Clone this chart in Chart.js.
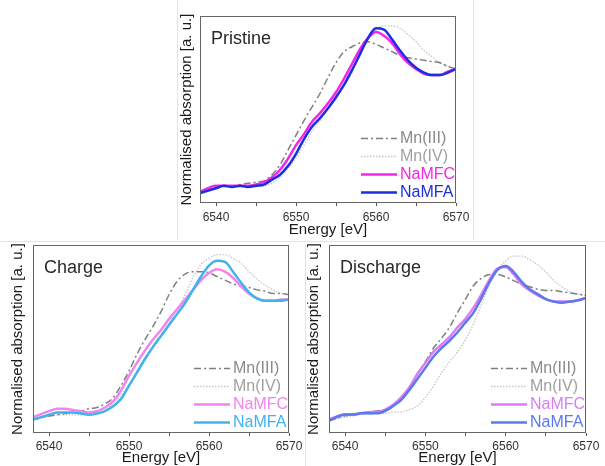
<!DOCTYPE html>
<html>
<head>
<meta charset="utf-8">
<script src="https://cdn.jsdelivr.net/npm/chart.js@4.4.1/dist/chart.umd.min.js"></script>
<style>
  html, body { margin: 0; padding: 0; background: #fff; }
  body { width: 605px; height: 466px; position: relative; overflow: hidden; }
  canvas { position: absolute; }
  .rule { position: absolute; background: #e3e3e3; }
</style>
</head>
<body>
<div class="rule" style="left:177px;top:0;width:1px;height:240px"></div>
<div class="rule" style="left:473px;top:0;width:1px;height:240px"></div>
<div class="rule" style="left:0;top:241px;width:605px;height:1px"></div>
<div class="rule" style="left:305px;top:244px;width:1px;height:222px"></div>
<canvas id="pristine" width="300" height="240" style="left:175px;top:0"></canvas>
<canvas id="charge" width="305" height="225" style="left:0;top:241px"></canvas>
<canvas id="discharge" width="307" height="225" style="left:298px;top:241px"></canvas>
<script>
// energy grid (eV) shared by all curves
const energy = [6538, 6540, 6541, 6542, 6543, 6544, 6545, 6546, 6547, 6548, 6549,
  6550, 6551, 6552, 6553, 6554, 6555, 6556, 6557, 6558, 6559,
  6560, 6561, 6562, 6563, 6564, 6565, 6566, 6567, 6568, 6569, 6570];
const energyTicks = [6540, 6545, 6550, 6555, 6560, 6565, 6570];
const seriesNames = ['Mn(III)', 'Mn(IV)', 'NaMFC', 'NaMFA'];
const panelTitles = ['Pristine', 'Charge', 'Discharge'];

// normalised absorption
const pristineMn3 = [-0.01, 0.04, 0.05, 0.05, 0.06, 0.07, 0.08, 0.09, 0.14, 0.22, 0.34, 0.46, 0.58, 0.69, 0.80, 0.93, 1.05, 1.14, 1.18, 1.21, 1.22, 1.20, 1.17, 1.14, 1.11, 1.09, 1.08, 1.07, 1.06, 1.05, 1.02, 1.00];
const pristineMn4 = [-0.01, 0.03, 0.04, 0.04, 0.04, 0.04, 0.05, 0.05, 0.07, 0.12, 0.19, 0.28, 0.38, 0.49, 0.58, 0.67, 0.76, 0.86, 0.97, 1.11, 1.24, 1.32, 1.35, 1.35, 1.33, 1.28, 1.22, 1.15, 1.10, 1.05, 1.02, 1.00];
const pristineNaMFC = [0.00, 0.05, 0.05, 0.05, 0.05, 0.05, 0.06, 0.08, 0.12, 0.18, 0.27, 0.38, 0.47, 0.57, 0.64, 0.72, 0.81, 0.92, 1.04, 1.16, 1.25, 1.30, 1.27, 1.21, 1.12, 1.05, 1.00, 0.96, 0.95, 0.95, 0.98, 1.00];
const pristineNaMFA = [-0.01, 0.03, 0.05, 0.04, 0.05, 0.04, 0.05, 0.06, 0.10, 0.14, 0.21, 0.31, 0.43, 0.53, 0.60, 0.68, 0.77, 0.87, 0.99, 1.12, 1.25, 1.33, 1.32, 1.24, 1.15, 1.07, 1.01, 0.97, 0.95, 0.95, 0.97, 1.00];

const chargeMn3 = [0.01, 0.04, 0.05, 0.06, 0.07, 0.08, 0.10, 0.11, 0.14, 0.19, 0.29, 0.41, 0.55, 0.67, 0.78, 0.90, 1.04, 1.15, 1.21, 1.23, 1.23, 1.22, 1.19, 1.16, 1.13, 1.11, 1.10, 1.08, 1.07, 1.05, 1.05, 1.04];
const chargeMn4 = [0.01, 0.04, 0.05, 0.05, 0.05, 0.05, 0.06, 0.07, 0.09, 0.14, 0.21, 0.30, 0.41, 0.52, 0.62, 0.71, 0.81, 0.92, 1.04, 1.18, 1.29, 1.34, 1.37, 1.37, 1.34, 1.30, 1.23, 1.17, 1.12, 1.08, 1.05, 1.04];
const chargeNaMFC = [0.03, 0.08, 0.10, 0.10, 0.09, 0.08, 0.07, 0.08, 0.11, 0.16, 0.25, 0.37, 0.48, 0.58, 0.67, 0.75, 0.84, 0.92, 1.00, 1.08, 1.16, 1.22, 1.25, 1.23, 1.18, 1.11, 1.05, 1.01, 0.99, 0.99, 1.00, 1.00];
const chargeNaMFA = [0.01, 0.05, 0.07, 0.07, 0.07, 0.06, 0.05, 0.06, 0.08, 0.12, 0.18, 0.29, 0.40, 0.51, 0.61, 0.70, 0.79, 0.88, 0.97, 1.08, 1.19, 1.28, 1.32, 1.31, 1.23, 1.14, 1.06, 1.01, 0.99, 0.99, 0.99, 1.00];

const dischargeMn3 = [0.00, 0.04, 0.05, 0.06, 0.07, 0.08, 0.09, 0.13, 0.18, 0.27, 0.38, 0.48, 0.59, 0.67, 0.76, 0.88, 0.99, 1.10, 1.16, 1.19, 1.19, 1.17, 1.14, 1.11, 1.09, 1.07, 1.06, 1.06, 1.05, 1.04, 1.03, 1.02];
const dischargeMn4 = [0.00, 0.03, 0.04, 0.05, 0.05, 0.06, 0.06, 0.07, 0.07, 0.09, 0.12, 0.19, 0.28, 0.39, 0.48, 0.56, 0.66, 0.79, 0.95, 1.11, 1.23, 1.30, 1.34, 1.34, 1.31, 1.27, 1.21, 1.14, 1.09, 1.05, 1.03, 1.02];
const dischargeNaMFC = [0.01, 0.05, 0.05, 0.06, 0.07, 0.07, 0.09, 0.13, 0.19, 0.27, 0.38, 0.47, 0.56, 0.62, 0.68, 0.76, 0.83, 0.92, 1.03, 1.15, 1.24, 1.25, 1.19, 1.11, 1.06, 1.02, 0.99, 0.97, 0.97, 0.97, 0.98, 1.00];
const dischargeNaMFA = [0.00, 0.05, 0.05, 0.06, 0.06, 0.06, 0.08, 0.12, 0.17, 0.25, 0.34, 0.43, 0.52, 0.59, 0.65, 0.72, 0.80, 0.88, 1.00, 1.13, 1.23, 1.26, 1.21, 1.13, 1.07, 1.03, 0.99, 0.97, 0.96, 0.97, 0.98, 1.00];

const FONT = 'Arial, "Liberation Sans", sans-serif';

// frame, panel title and the in-plot legend
const panelDecor = {
  id: 'panelDecor',
  afterDraw(chart, args, opts) {
    const { ctx, chartArea: a } = chart;
    ctx.save();
    ctx.strokeStyle = '#666';
    ctx.lineWidth = 1;
    ctx.strokeRect(Math.round(a.left) + 0.5, Math.round(a.top) + 0.5,
      Math.round(a.right - a.left) - 1, Math.round(a.bottom - a.top) - 1);

    ctx.textBaseline = 'middle';
    ctx.fillStyle = '#2a2a2a';
    ctx.font = '18px ' + FONT;
    ctx.fillText(opts.title, a.left + 11, a.top + 23);

    const rows = [65, 47, 29, 11];
    ctx.font = '16px ' + FONT;
    chart.data.datasets.forEach((ds, i) => {
      const y = Math.round(a.bottom - rows[i]) + 0.5;
      ctx.strokeStyle = ds.borderColor;
      ctx.lineWidth = ds.borderWidth;
      ctx.setLineDash(ds.borderDash || []);
      ctx.beginPath();
      ctx.moveTo(a.right - 95, y);
      ctx.lineTo(a.right - 59, y);
      ctx.stroke();
      ctx.setLineDash([]);
      ctx.fillStyle = ds.labelColor;
      ctx.fillText(ds.label, a.right - 56, y);
    });
    ctx.restore();
  }
};

function makePanel(id, title, series, colors, yRange, box) {
  const styles = [
    { line: '#7f7f7f', text: '#8a8a8a', width: 1.5, dash: [7, 3, 2, 3], order: 2 },
    { line: '#c6c6c6', text: '#a0a0a0', width: 1.3, dash: [1.5, 1.5], order: 3 },
    { line: colors[0], text: colors[0], width: 2.5, dash: [], order: 1 },
    { line: colors[1], text: colors[1], width: 2.5, dash: [], order: 0 }
  ];
  new Chart(document.getElementById(id), {
    type: 'line',
    data: {
      datasets: series.map((vals, i) => ({
        label: seriesNames[i],
        data: energy.map((e, k) => ({ x: e, y: vals[k] })),
        borderColor: styles[i].line,
        labelColor: styles[i].text,
        borderWidth: styles[i].width,
        borderDash: styles[i].dash,
        order: styles[i].order,
        pointRadius: 0,
        fill: false,
        cubicInterpolationMode: 'monotone'
      }))
    },
    options: {
      responsive: false,
      animation: false,
      devicePixelRatio: 1,
      layout: { padding: { left: 0, top: box.top, right: box.right, bottom: 0 } },
      plugins: {
        legend: { display: false },
        tooltip: { enabled: false },
        panelDecor: { title: title }
      },
      scales: {
        x: {
          type: 'linear',
          min: 6538,
          max: 6570,
          afterBuildTicks: s => { s.ticks = energyTicks.map(v => ({ value: v })); },
          afterFit: s => { s.height = box.xHeight; s.paddingLeft = 0; s.paddingRight = 0; },
          grid: { display: true, drawOnChartArea: false, drawTicks: true, tickLength: 3, color: '#555' },
          border: { display: false },
          ticks: {
            autoSkip: false,
            maxRotation: 0,
            padding: box.tickPad,
            color: '#333',
            font: { size: 12, family: FONT },
            callback: v => (v % 10 === 0 ? String(v) : '')
          },
          title: {
            display: true,
            text: 'Energy [eV]',
            color: '#1a1a1a',
            font: { size: 15, family: FONT },
            padding: { top: 0, bottom: box.xTitlePad }
          }
        },
        y: {
          min: yRange[0],
          max: yRange[1],
          afterFit: s => { s.width = box.yWidth; s.paddingTop = 0; s.paddingBottom = 0; },
          grid: { display: false },
          border: { display: false },
          ticks: { display: false },
          title: {
            display: true,
            text: 'Normalised absorption [a. u.]',
            color: '#1a1a1a',
            font: { size: 15, family: FONT },
            padding: { top: box.yTitlePad, bottom: 0 }
          }
        }
      }
    },
    plugins: [panelDecor]
  });
}

makePanel('pristine', panelTitles[0],
  [pristineMn3, pristineMn4, pristineNaMFC, pristineNaMFA],
  ['#f524ea', '#1c2ee0'], [-0.09, 1.43],
  { top: 16, right: 19, xHeight: 37, yWidth: 25, tickPad: 4, xTitlePad: 1.5, yTitlePad: 3 });

makePanel('charge', panelTitles[1],
  [chargeMn3, chargeMn4, chargeNaMFC, chargeNaMFA],
  ['#f284ef', '#3fb2f0'], [-0.10, 1.45],
  { top: 4, right: 16, xHeight: 33, yWidth: 33, tickPad: 3, xTitlePad: -1, yTitlePad: 9 });

makePanel('discharge', panelTitles[2],
  [dischargeMn3, dischargeMn4, dischargeNaMFC, dischargeNaMFA],
  ['#d87ef2', '#5c78f0'], [-0.10, 1.43],
  { top: 4, right: 19, xHeight: 33, yWidth: 31, tickPad: 3, xTitlePad: -1, yTitlePad: 6.5 });
</script>
</body>
</html>
